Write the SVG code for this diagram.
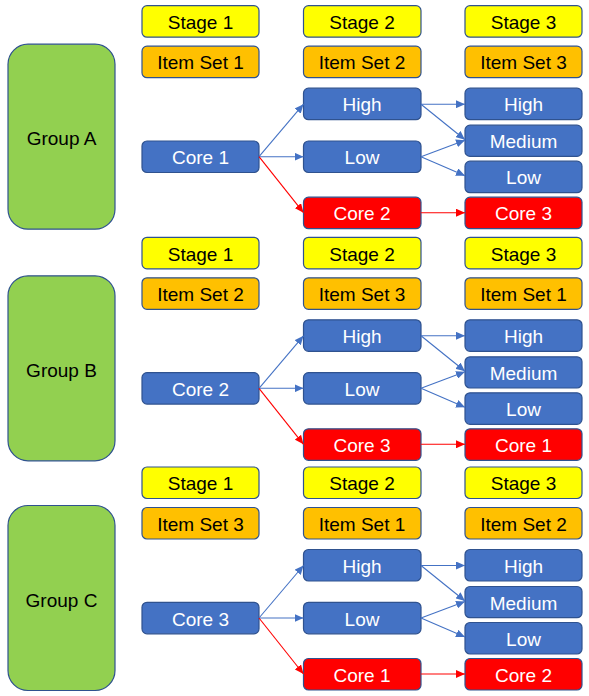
<svg xmlns="http://www.w3.org/2000/svg" width="589" height="696" viewBox="0 0 589 696">
<style>
.n{stroke:#2F528F;stroke-width:1.2}
.stage{fill:#FFFF00}
.item{fill:#FFC000}
.blue{fill:#4472C4}
.red{fill:#FF0000}
.grp{fill:#92D050}
text{font-family:"Liberation Sans",Arial,sans-serif;font-size:19px;text-anchor:middle}
.dk{fill:#000}
.lt{fill:#fff}
.cb{stroke:#4472C4;stroke-width:1.1;fill:none}
.cr{stroke:#FF0000;stroke-width:1.1;fill:none}
</style>
<defs>
<marker id="ab" markerUnits="userSpaceOnUse" markerWidth="10" markerHeight="8" refX="9" refY="4" orient="auto"><path d="M0,0 L9,4 L0,8 z" fill="#4472C4"/></marker>
<marker id="ar" markerUnits="userSpaceOnUse" markerWidth="10" markerHeight="8" refX="9" refY="4" orient="auto"><path d="M0,0 L9,4 L0,8 z" fill="#FF0000"/></marker>
</defs>
<rect width="589" height="696" fill="#fff"/>

<!-- Section A -->
<g id="sectionA" transform="translate(0,5.7)">
<g id="groupA"><rect class="n grp" x="8" y="38.5" width="107" height="185" rx="20"/><text class="dk" x="61.5" y="139.5">Group A</text></g>
<g id="stageA1"><rect class="n stage" x="142" y="0" width="117" height="31.5" rx="5"/><text class="dk" x="200.5" y="23.3">Stage 1</text></g>
<g id="stageA2"><rect class="n stage" x="303.5" y="0" width="117.5" height="31.5" rx="5"/><text class="dk" x="362" y="23.3">Stage 2</text></g>
<g id="stageA3"><rect class="n stage" x="465" y="0" width="117" height="31.5" rx="5"/><text class="dk" x="523.5" y="23.3">Stage 3</text></g>
<g id="itemA1"><rect class="n item" x="142" y="40.5" width="117" height="31.5" rx="5"/><text class="dk" x="200.5" y="63.8">Item Set 1</text></g>
<g id="itemA2"><rect class="n item" x="303.5" y="40.5" width="117.5" height="31.5" rx="5"/><text class="dk" x="362" y="63.8">Item Set 2</text></g>
<g id="itemA3"><rect class="n item" x="465" y="40.5" width="117" height="31.5" rx="5"/><text class="dk" x="523.5" y="63.8">Item Set 3</text></g>
<g id="coreA"><rect class="n blue" x="142" y="135.3" width="117" height="31.5" rx="5"/><text class="lt" x="200.5" y="158.6">Core 1</text></g>
<g id="highA2"><rect class="n blue" x="303.5" y="82.5" width="117.5" height="31.5" rx="5"/><text class="lt" x="362" y="105.8">High</text></g>
<g id="lowA2"><rect class="n blue" x="303.5" y="135.3" width="117.5" height="31.5" rx="5"/><text class="lt" x="362" y="158.6">Low</text></g>
<g id="redA2"><rect class="n red" x="303.5" y="191.5" width="117.5" height="31.5" rx="5"/><text class="lt" x="362" y="214.8">Core 2</text></g>
<g id="highA3"><rect class="n blue" x="465" y="82.5" width="117" height="31.5" rx="5"/><text class="lt" x="523.5" y="105.8">High</text></g>
<g id="medA3"><rect class="n blue" x="465" y="119.5" width="117" height="31.2" rx="5"/><text class="lt" x="523.5" y="142.6">Medium</text></g>
<g id="lowA3"><rect class="n blue" x="465" y="155.5" width="117" height="31.5" rx="5"/><text class="lt" x="523.5" y="178.8">Low</text></g>
<g id="redA3"><rect class="n red" x="465" y="191.5" width="117" height="31.5" rx="5"/><text class="lt" x="523.5" y="214.8">Core 3</text></g>
</g>

<!-- Section B -->
<g id="sectionB" transform="translate(0,237.3)">
<g id="groupB"><rect class="n grp" x="8" y="38.5" width="107" height="185" rx="20"/><text class="dk" x="61.5" y="139.5">Group B</text></g>
<g id="stageB1"><rect class="n stage" x="142" y="0" width="117" height="31.5" rx="5"/><text class="dk" x="200.5" y="23.3">Stage 1</text></g>
<g id="stageB2"><rect class="n stage" x="303.5" y="0" width="117.5" height="31.5" rx="5"/><text class="dk" x="362" y="23.3">Stage 2</text></g>
<g id="stageB3"><rect class="n stage" x="465" y="0" width="117" height="31.5" rx="5"/><text class="dk" x="523.5" y="23.3">Stage 3</text></g>
<g id="itemB1"><rect class="n item" x="142" y="40.5" width="117" height="31.5" rx="5"/><text class="dk" x="200.5" y="63.8">Item Set 2</text></g>
<g id="itemB2"><rect class="n item" x="303.5" y="40.5" width="117.5" height="31.5" rx="5"/><text class="dk" x="362" y="63.8">Item Set 3</text></g>
<g id="itemB3"><rect class="n item" x="465" y="40.5" width="117" height="31.5" rx="5"/><text class="dk" x="523.5" y="63.8">Item Set 1</text></g>
<g id="coreB"><rect class="n blue" x="142" y="135.3" width="117" height="31.5" rx="5"/><text class="lt" x="200.5" y="158.6">Core 2</text></g>
<g id="highB2"><rect class="n blue" x="303.5" y="82.5" width="117.5" height="31.5" rx="5"/><text class="lt" x="362" y="105.8">High</text></g>
<g id="lowB2"><rect class="n blue" x="303.5" y="135.3" width="117.5" height="31.5" rx="5"/><text class="lt" x="362" y="158.6">Low</text></g>
<g id="redB2"><rect class="n red" x="303.5" y="191.5" width="117.5" height="31.5" rx="5"/><text class="lt" x="362" y="214.8">Core 3</text></g>
<g id="highB3"><rect class="n blue" x="465" y="82.5" width="117" height="31.5" rx="5"/><text class="lt" x="523.5" y="105.8">High</text></g>
<g id="medB3"><rect class="n blue" x="465" y="119.5" width="117" height="31.2" rx="5"/><text class="lt" x="523.5" y="142.6">Medium</text></g>
<g id="lowB3"><rect class="n blue" x="465" y="155.5" width="117" height="31.5" rx="5"/><text class="lt" x="523.5" y="178.8">Low</text></g>
<g id="redB3"><rect class="n red" x="465" y="191.5" width="117" height="31.5" rx="5"/><text class="lt" x="523.5" y="214.8">Core 1</text></g>
</g>

<!-- Section C -->
<g id="sectionC" transform="translate(0,467)">
<g id="groupC"><rect class="n grp" x="8" y="38.5" width="107" height="185" rx="20"/><text class="dk" x="61.5" y="139.5">Group C</text></g>
<g id="stageC1"><rect class="n stage" x="142" y="0" width="117" height="31.5" rx="5"/><text class="dk" x="200.5" y="23.3">Stage 1</text></g>
<g id="stageC2"><rect class="n stage" x="303.5" y="0" width="117.5" height="31.5" rx="5"/><text class="dk" x="362" y="23.3">Stage 2</text></g>
<g id="stageC3"><rect class="n stage" x="465" y="0" width="117" height="31.5" rx="5"/><text class="dk" x="523.5" y="23.3">Stage 3</text></g>
<g id="itemC1"><rect class="n item" x="142" y="40.5" width="117" height="31.5" rx="5"/><text class="dk" x="200.5" y="63.8">Item Set 3</text></g>
<g id="itemC2"><rect class="n item" x="303.5" y="40.5" width="117.5" height="31.5" rx="5"/><text class="dk" x="362" y="63.8">Item Set 1</text></g>
<g id="itemC3"><rect class="n item" x="465" y="40.5" width="117" height="31.5" rx="5"/><text class="dk" x="523.5" y="63.8">Item Set 2</text></g>
<g id="coreC"><rect class="n blue" x="142" y="135.3" width="117" height="31.5" rx="5"/><text class="lt" x="200.5" y="158.6">Core 3</text></g>
<g id="highC2"><rect class="n blue" x="303.5" y="82.5" width="117.5" height="31.5" rx="5"/><text class="lt" x="362" y="105.8">High</text></g>
<g id="lowC2"><rect class="n blue" x="303.5" y="135.3" width="117.5" height="31.5" rx="5"/><text class="lt" x="362" y="158.6">Low</text></g>
<g id="redC2"><rect class="n red" x="303.5" y="191.5" width="117.5" height="31.5" rx="5"/><text class="lt" x="362" y="214.8">Core 1</text></g>
<g id="highC3"><rect class="n blue" x="465" y="82.5" width="117" height="31.5" rx="5"/><text class="lt" x="523.5" y="105.8">High</text></g>
<g id="medC3"><rect class="n blue" x="465" y="119.5" width="117" height="31.2" rx="5"/><text class="lt" x="523.5" y="142.6">Medium</text></g>
<g id="lowC3"><rect class="n blue" x="465" y="155.5" width="117" height="31.5" rx="5"/><text class="lt" x="523.5" y="178.8">Low</text></g>
<g id="redC3"><rect class="n red" x="465" y="191.5" width="117" height="31.5" rx="5"/><text class="lt" x="523.5" y="214.8">Core 2</text></g>
</g>

<!-- Connectors -->
<g id="connectors">
<defs>
<g id="conn">
<line class="cb" x1="259" y1="151" x2="303.5" y2="98.5" marker-end="url(#ab)"/>
<line class="cb" x1="259" y1="151" x2="303.5" y2="151" marker-end="url(#ab)"/>
<line class="cr" x1="259" y1="151" x2="303.5" y2="207" marker-end="url(#ar)"/>
<line class="cb" x1="421" y1="98.5" x2="465" y2="98.5" marker-end="url(#ab)"/>
<line class="cb" x1="421" y1="98.5" x2="465" y2="134" marker-end="url(#ab)"/>
<line class="cb" x1="421" y1="151" x2="465" y2="134.5" marker-end="url(#ab)"/>
<line class="cb" x1="421" y1="151" x2="465" y2="170" marker-end="url(#ab)"/>
<line class="cr" x1="421" y1="207" x2="465" y2="207" marker-end="url(#ar)"/>
</g>
</defs>
<use href="#conn" transform="translate(0,5.7)"/>
<use href="#conn" transform="translate(0,237.3)"/>
<use href="#conn" transform="translate(0,467)"/>
</g>
</svg>
